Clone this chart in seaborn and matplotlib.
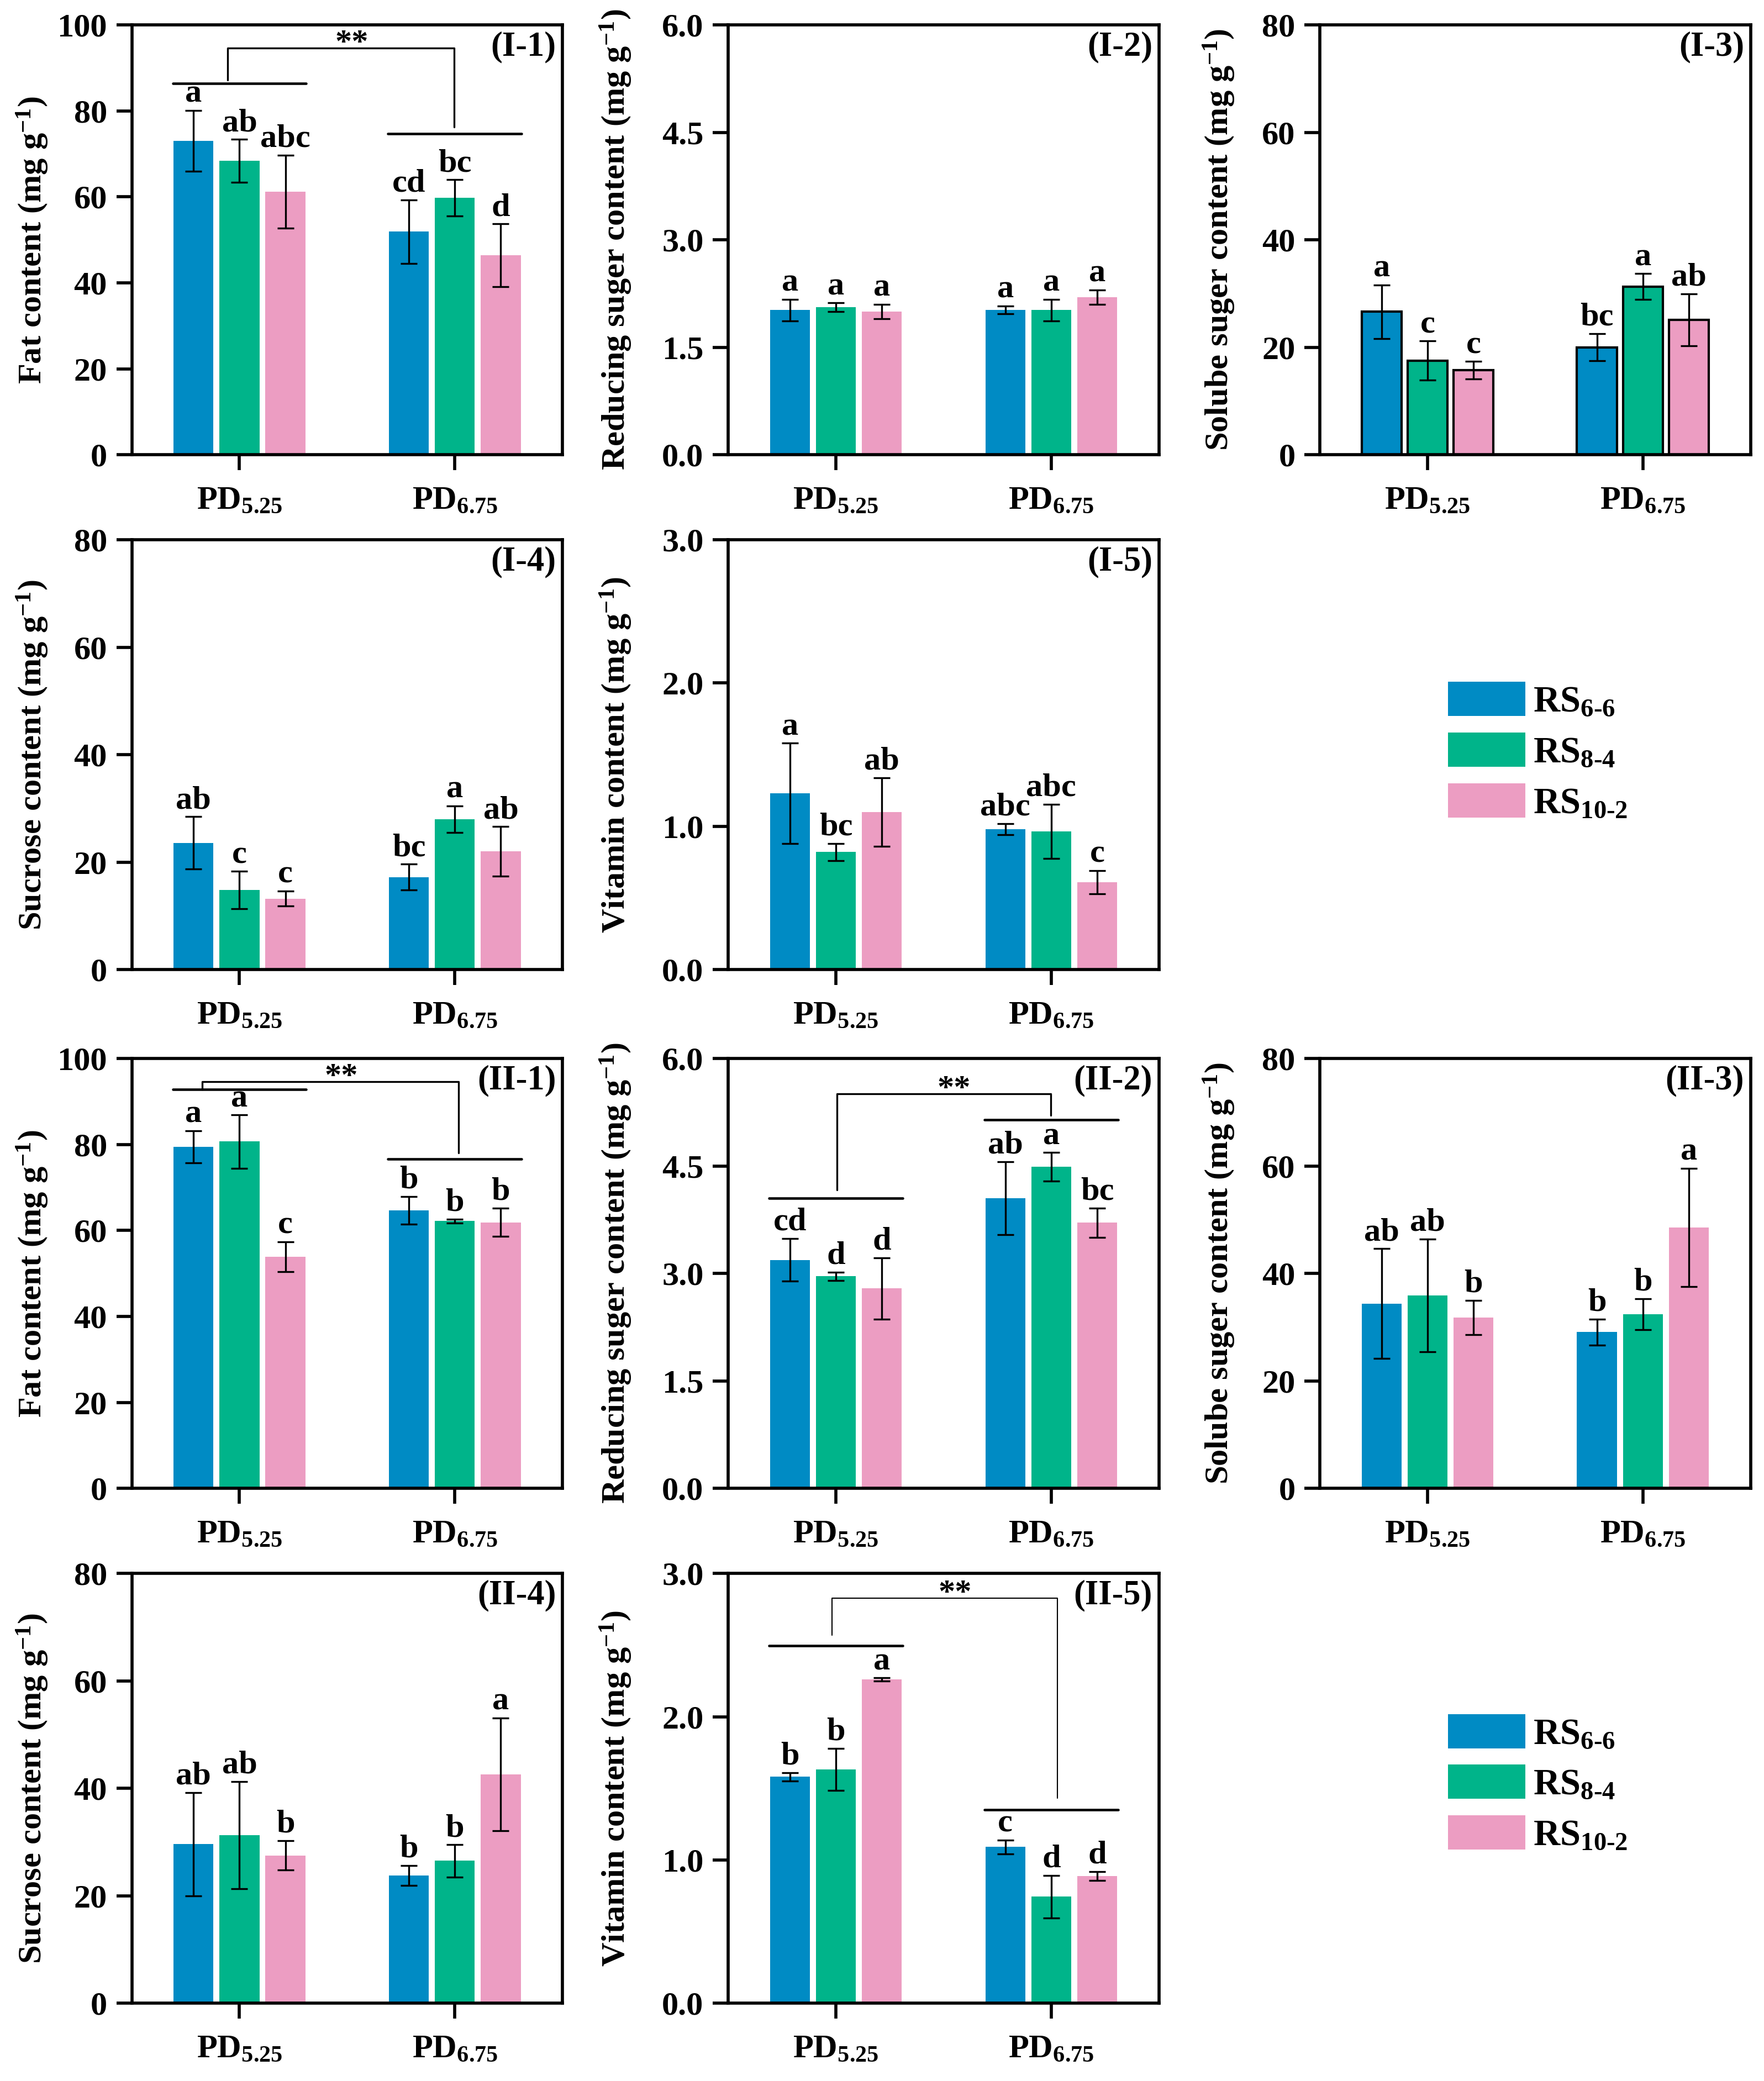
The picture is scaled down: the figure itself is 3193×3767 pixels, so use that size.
import matplotlib
matplotlib.use("Agg")
import matplotlib.pyplot as plt
import seaborn as sns
import pandas as pd
from matplotlib.patches import Patch

# groups, cultivars and colours
groups = ["PD$_{5.25}$", "PD$_{6.75}$"]
cultivars = ["RS6-6", "RS8-4", "RS10-2"]
legend_labels = [r"RS$_{6\text{-}6}$", r"RS$_{8\text{-}4}$", r"RS$_{10\text{-}2}$"]
colors = ["#008BC4", "#00B48A", "#EC9DC2"]

# values: PD5.25 (RS6-6, RS8-4, RS10-2), then PD6.75 (same order)
fat_1_mean = [73.0, 68.4, 61.2, 51.9, 59.8, 46.4]
fat_1_sd = [7.1, 5.0, 8.5, 7.4, 4.2, 7.3]
fat_1_letters = ["a", "ab", "abc", "cd", "bc", "d"]

red_1_mean = [2.02, 2.06, 2.00, 2.02, 2.02, 2.20]
red_1_sd = [0.15, 0.06, 0.10, 0.055, 0.15, 0.10]
red_1_letters = ["a", "a", "a", "a", "a", "a"]

sol_1_mean = [26.6, 17.5, 15.7, 20.0, 31.3, 25.1]
sol_1_sd = [5.0, 3.65, 1.65, 2.55, 2.4, 4.85]
sol_1_letters = ["a", "c", "c", "bc", "a", "ab"]

suc_1_mean = [23.6, 14.8, 13.2, 17.2, 28.0, 22.0]
suc_1_sd = [4.85, 3.5, 1.4, 2.4, 2.45, 4.6]
suc_1_letters = ["ab", "c", "c", "bc", "a", "ab"]

vit_1_mean = [1.23, 0.82, 1.10, 0.98, 0.965, 0.61]
vit_1_sd = [0.35, 0.06, 0.24, 0.04, 0.19, 0.082]
vit_1_letters = ["a", "bc", "ab", "abc", "abc", "c"]

fat_2_mean = [79.5, 80.7, 53.9, 64.7, 62.2, 61.9]
fat_2_sd = [3.7, 6.2, 3.5, 3.2, 0.45, 3.3]
fat_2_letters = ["a", "a", "c", "b", "b", "b"]

red_2_mean = [3.19, 2.96, 2.79, 4.05, 4.49, 3.71]
red_2_sd = [0.30, 0.06, 0.43, 0.51, 0.20, 0.205]
red_2_letters = ["cd", "d", "d", "ab", "a", "bc"]

sol_2_mean = [34.4, 35.9, 31.8, 29.1, 32.4, 48.6]
sol_2_sd = [10.2, 10.5, 3.2, 2.4, 2.9, 11.0]
sol_2_letters = ["ab", "ab", "b", "b", "b", "a"]

suc_2_mean = [29.6, 31.3, 27.5, 23.8, 26.5, 42.6]
suc_2_sd = [9.6, 10.0, 2.75, 1.85, 3.0, 10.5]
suc_2_letters = ["ab", "ab", "b", "b", "b", "a"]

vit_2_mean = [1.58, 1.632, 2.259, 1.09, 0.743, 0.888]
vit_2_sd = [0.03, 0.148, 0.012, 0.05, 0.148, 0.03]
vit_2_letters = ["b", "b", "a", "c", "d", "d"]

sns.set_style("ticks")
plt.rcParams["font.family"] = ["Liberation Serif", "DejaVu Serif"]
plt.rcParams["font.weight"] = "bold"
plt.rcParams["axes.labelweight"] = "bold"
plt.rcParams["mathtext.fontset"] = "custom"
plt.rcParams["mathtext.rm"] = "Liberation Serif:bold"
plt.rcParams["mathtext.bf"] = "Liberation Serif:bold"
plt.rcParams["mathtext.it"] = "Liberation Serif:bold:italic"
plt.rcParams["mathtext.default"] = "bf"
for k in ["axes.edgecolor", "xtick.color", "ytick.color", "text.color", "axes.labelcolor"]:
    plt.rcParams[k] = "black"

FS = 14.5
col_left = [0.0747, 0.4128, 0.7482]
row_bottom = [0.7815, 0.5341, 0.2848, 0.0374]
ax_w, ax_h = 0.2442, 0.2065
label_x = [-0.189, -0.219, -0.192]


def draw_panel(ax, col, mean, sd, letters, ylabel, ylim, yticks, fmt, tag, edge=False):
    df = pd.DataFrame({
        "group": [g for g in groups for _ in cultivars],
        "cultivar": cultivars * 2,
        "value": mean,
    })
    sns.barplot(data=df, x="group", y="value", hue="cultivar", order=groups,
                hue_order=cultivars, palette=colors, saturation=1, width=0.64,
                gap=0.13, errorbar=None, legend=False, ax=ax,
                edgecolor="black" if edge else "none", linewidth=1.0 if edge else 0)
    bars = sorted(ax.patches, key=lambda p: p.get_x())
    xs = [b.get_x() + b.get_width() / 2 for b in bars]
    ax.errorbar(xs, mean, yerr=sd, fmt="none", ecolor="black",
                elinewidth=0.8, capsize=3.6, capthick=0.8, zorder=3)
    for x, m, s, l in zip(xs, mean, sd, letters):
        ax.annotate(l, (x, m + s), xytext=(0, 0.5), textcoords="offset points",
                    ha="center", va="bottom", fontsize=FS, fontweight="bold")

    ax.set_xlim(-0.5, 1.5)
    ax.set_ylim(*ylim)
    ax.set_yticks(yticks)
    ax.set_yticklabels([fmt.format(t) for t in yticks])
    ax.set_xlabel("")
    ax.set_ylabel(ylabel, fontsize=FS, fontweight="bold")
    ax.yaxis.set_label_coords(label_x[col], 0.5)
    ax.tick_params(axis="both", direction="out", length=6.7, width=1.35,
                   labelsize=FS, pad=4)
    ax.tick_params(axis="x", pad=7)
    for sp in ax.spines.values():
        sp.set_visible(True)
        sp.set_linewidth(1.35)
        sp.set_color("black")
    ax.text(0.985, 0.985, tag, transform=ax.transAxes, ha="right", va="top",
            fontsize=15, fontweight="bold")


def bracket(ax, left_y, right_y, xl, xr, top, l_bot, r_bot, star_x, lw=0.8):
    ax.plot([-0.31, 0.31], [left_y, left_y], color="black", lw=1.1)
    ax.plot([0.69, 1.31], [right_y, right_y], color="black", lw=1.1)
    ax.plot([xl, xl, xr, xr], [l_bot, top, top, r_bot], color="black", lw=lw)
    ax.annotate("**", (star_x, top), xytext=(0, -1.7), textcoords="offset points",
                ha="center", va="baseline", fontsize=FS, fontweight="bold")


fig = plt.figure(figsize=(3193 / 300, 3767 / 300), dpi=300)


def new_ax(r, c):
    return fig.add_axes([col_left[c], row_bottom[r], ax_w, ax_h])


unit = " (mg g$^{-1}$)"
fat_ticks = [0, 20, 40, 60, 80, 100]
red_ticks = [0.0, 1.5, 3.0, 4.5, 6.0]
s80_ticks = [0, 20, 40, 60, 80]
vit_ticks = [0.0, 1.0, 2.0, 3.0]

ax = new_ax(0, 0)
draw_panel(ax, 0, fat_1_mean, fat_1_sd, fat_1_letters, "Fat content" + unit,
           (0, 100), fat_ticks, "{:.0f}", "(I-1)")
bracket(ax, 86.4, 74.7, -0.056, 0.996, 94.6, 87.2, 76.3, 0.522)

ax = new_ax(0, 1)
draw_panel(ax, 1, red_1_mean, red_1_sd, red_1_letters, "Reducing suger content" + unit,
           (0, 6), red_ticks, "{:.1f}", "(I-2)")

ax = new_ax(0, 2)
draw_panel(ax, 2, sol_1_mean, sol_1_sd, sol_1_letters, "Solube suger content" + unit,
           (0, 80), s80_ticks, "{:.0f}", "(I-3)", edge=True)

ax = new_ax(1, 0)
draw_panel(ax, 0, suc_1_mean, suc_1_sd, suc_1_letters, "Sucrose content" + unit,
           (0, 80), s80_ticks, "{:.0f}", "(I-4)")

ax = new_ax(1, 1)
draw_panel(ax, 1, vit_1_mean, vit_1_sd, vit_1_letters, "Vitamin content" + unit,
           (0, 3), vit_ticks, "{:.1f}", "(I-5)")

ax = new_ax(2, 0)
draw_panel(ax, 0, fat_2_mean, fat_2_sd, fat_2_letters, "Fat content" + unit,
           (0, 100), fat_ticks, "{:.0f}", "(II-1)")
bracket(ax, 92.8, 76.7, -0.173, 1.018, 94.7, 92.8, 78.0, 0.473)

ax = new_ax(2, 1)
draw_panel(ax, 1, red_2_mean, red_2_sd, red_2_letters, "Reducing suger content" + unit,
           (0, 6), red_ticks, "{:.1f}", "(II-2)")
bracket(ax, 4.05, 5.145, 0.005, 0.997, 5.51, 4.17, 5.21, 0.548)

ax = new_ax(2, 2)
draw_panel(ax, 2, sol_2_mean, sol_2_sd, sol_2_letters, "Solube suger content" + unit,
           (0, 80), s80_ticks, "{:.0f}", "(II-3)")

ax = new_ax(3, 0)
draw_panel(ax, 0, suc_2_mean, suc_2_sd, suc_2_letters, "Sucrose content" + unit,
           (0, 80), s80_ticks, "{:.0f}", "(II-4)")

ax = new_ax(3, 1)
draw_panel(ax, 1, vit_2_mean, vit_2_sd, vit_2_letters, "Vitamin content" + unit,
           (0, 3), vit_ticks, "{:.1f}", "(II-5)")
bracket(ax, 2.494, 1.352, -0.019, 1.028, 2.827, 2.57, 1.43, 0.553, lw=0.5)

# legends
handles = [Patch(facecolor=c, edgecolor="none", label=l) for c, l in zip(colors, legend_labels)]
for yc in [0.639, 0.143]:
    fig.legend(handles=handles, loc="center left", bbox_to_anchor=(0.821, yc),
               frameon=False, fontsize=16, handlelength=2.1, handleheight=1.05,
               labelspacing=0.36, handletextpad=0.2, borderpad=0, borderaxespad=0)

fig.savefig("out.png", dpi=300)
